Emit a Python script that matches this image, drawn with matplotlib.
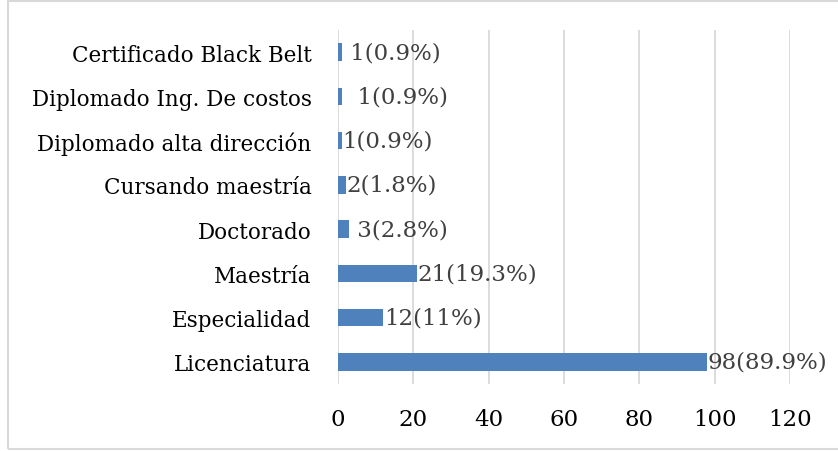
import matplotlib
matplotlib.use("Agg")
import matplotlib.pyplot as plt
from matplotlib.patches import Rectangle

categories = ["Licenciatura", "Especialidad", "Maestría", "Doctorado",
              "Cursando maestría", "Diplomado alta dirección",
              "Diplomado Ing. De costos", "Certificado Black Belt"]
values = [98, 12, 21, 3, 2, 1, 1, 1]
labels = ["98(89.9%)", "12(11%)", "21(19.3%)", " 3(2.8%)", "2(1.8%)",
          "1(0.9%)", "  1(0.9%)", " 1(0.9%)"]
xticks = [0, 20, 40, 60, 80, 100, 120]

plt.rcParams['font.family'] = ['DejaVu Serif']

fig = plt.figure(figsize=(8.38, 4.52), dpi=100)
ax = fig.add_axes([338/838, 1-385/452, (790-338)/838, (385-31)/452])

ypos = list(range(len(categories)))
ax.barh(ypos, values, height=0.4, color="#4F81BD", zorder=3)
for y, v, lab in zip(ypos, values, labels):
    ax.text(v + 0.2, y, lab, va="center", ha="left", fontsize=16.5, color="#404040", zorder=4)

ax.set_xlim(0, 120)
ax.set_ylim(-0.5, len(categories) - 0.5)
ax.set_xticks(xticks)
ax.set_xticklabels([str(t) for t in xticks], fontsize=16.5, color="black")
ax.set_yticks(ypos)
ax.set_yticklabels(categories, fontsize=15.5, color="black")
ax.tick_params(axis="both", length=0)
ax.tick_params(axis="y", pad=19)
ax.tick_params(axis="x", pad=17)
ax.xaxis.grid(True, color="#D9D9D9", linewidth=1.3, zorder=0)
for s in ax.spines.values():
    s.set_visible(False)

fig.patches.append(Rectangle((8/838, 1-450/452), (870-8)/838, (450-2)/452,
                             transform=fig.transFigure, fill=False,
                             edgecolor="#D9D9D9", linewidth=1.5))

fig.savefig("out.png", dpi=100)
